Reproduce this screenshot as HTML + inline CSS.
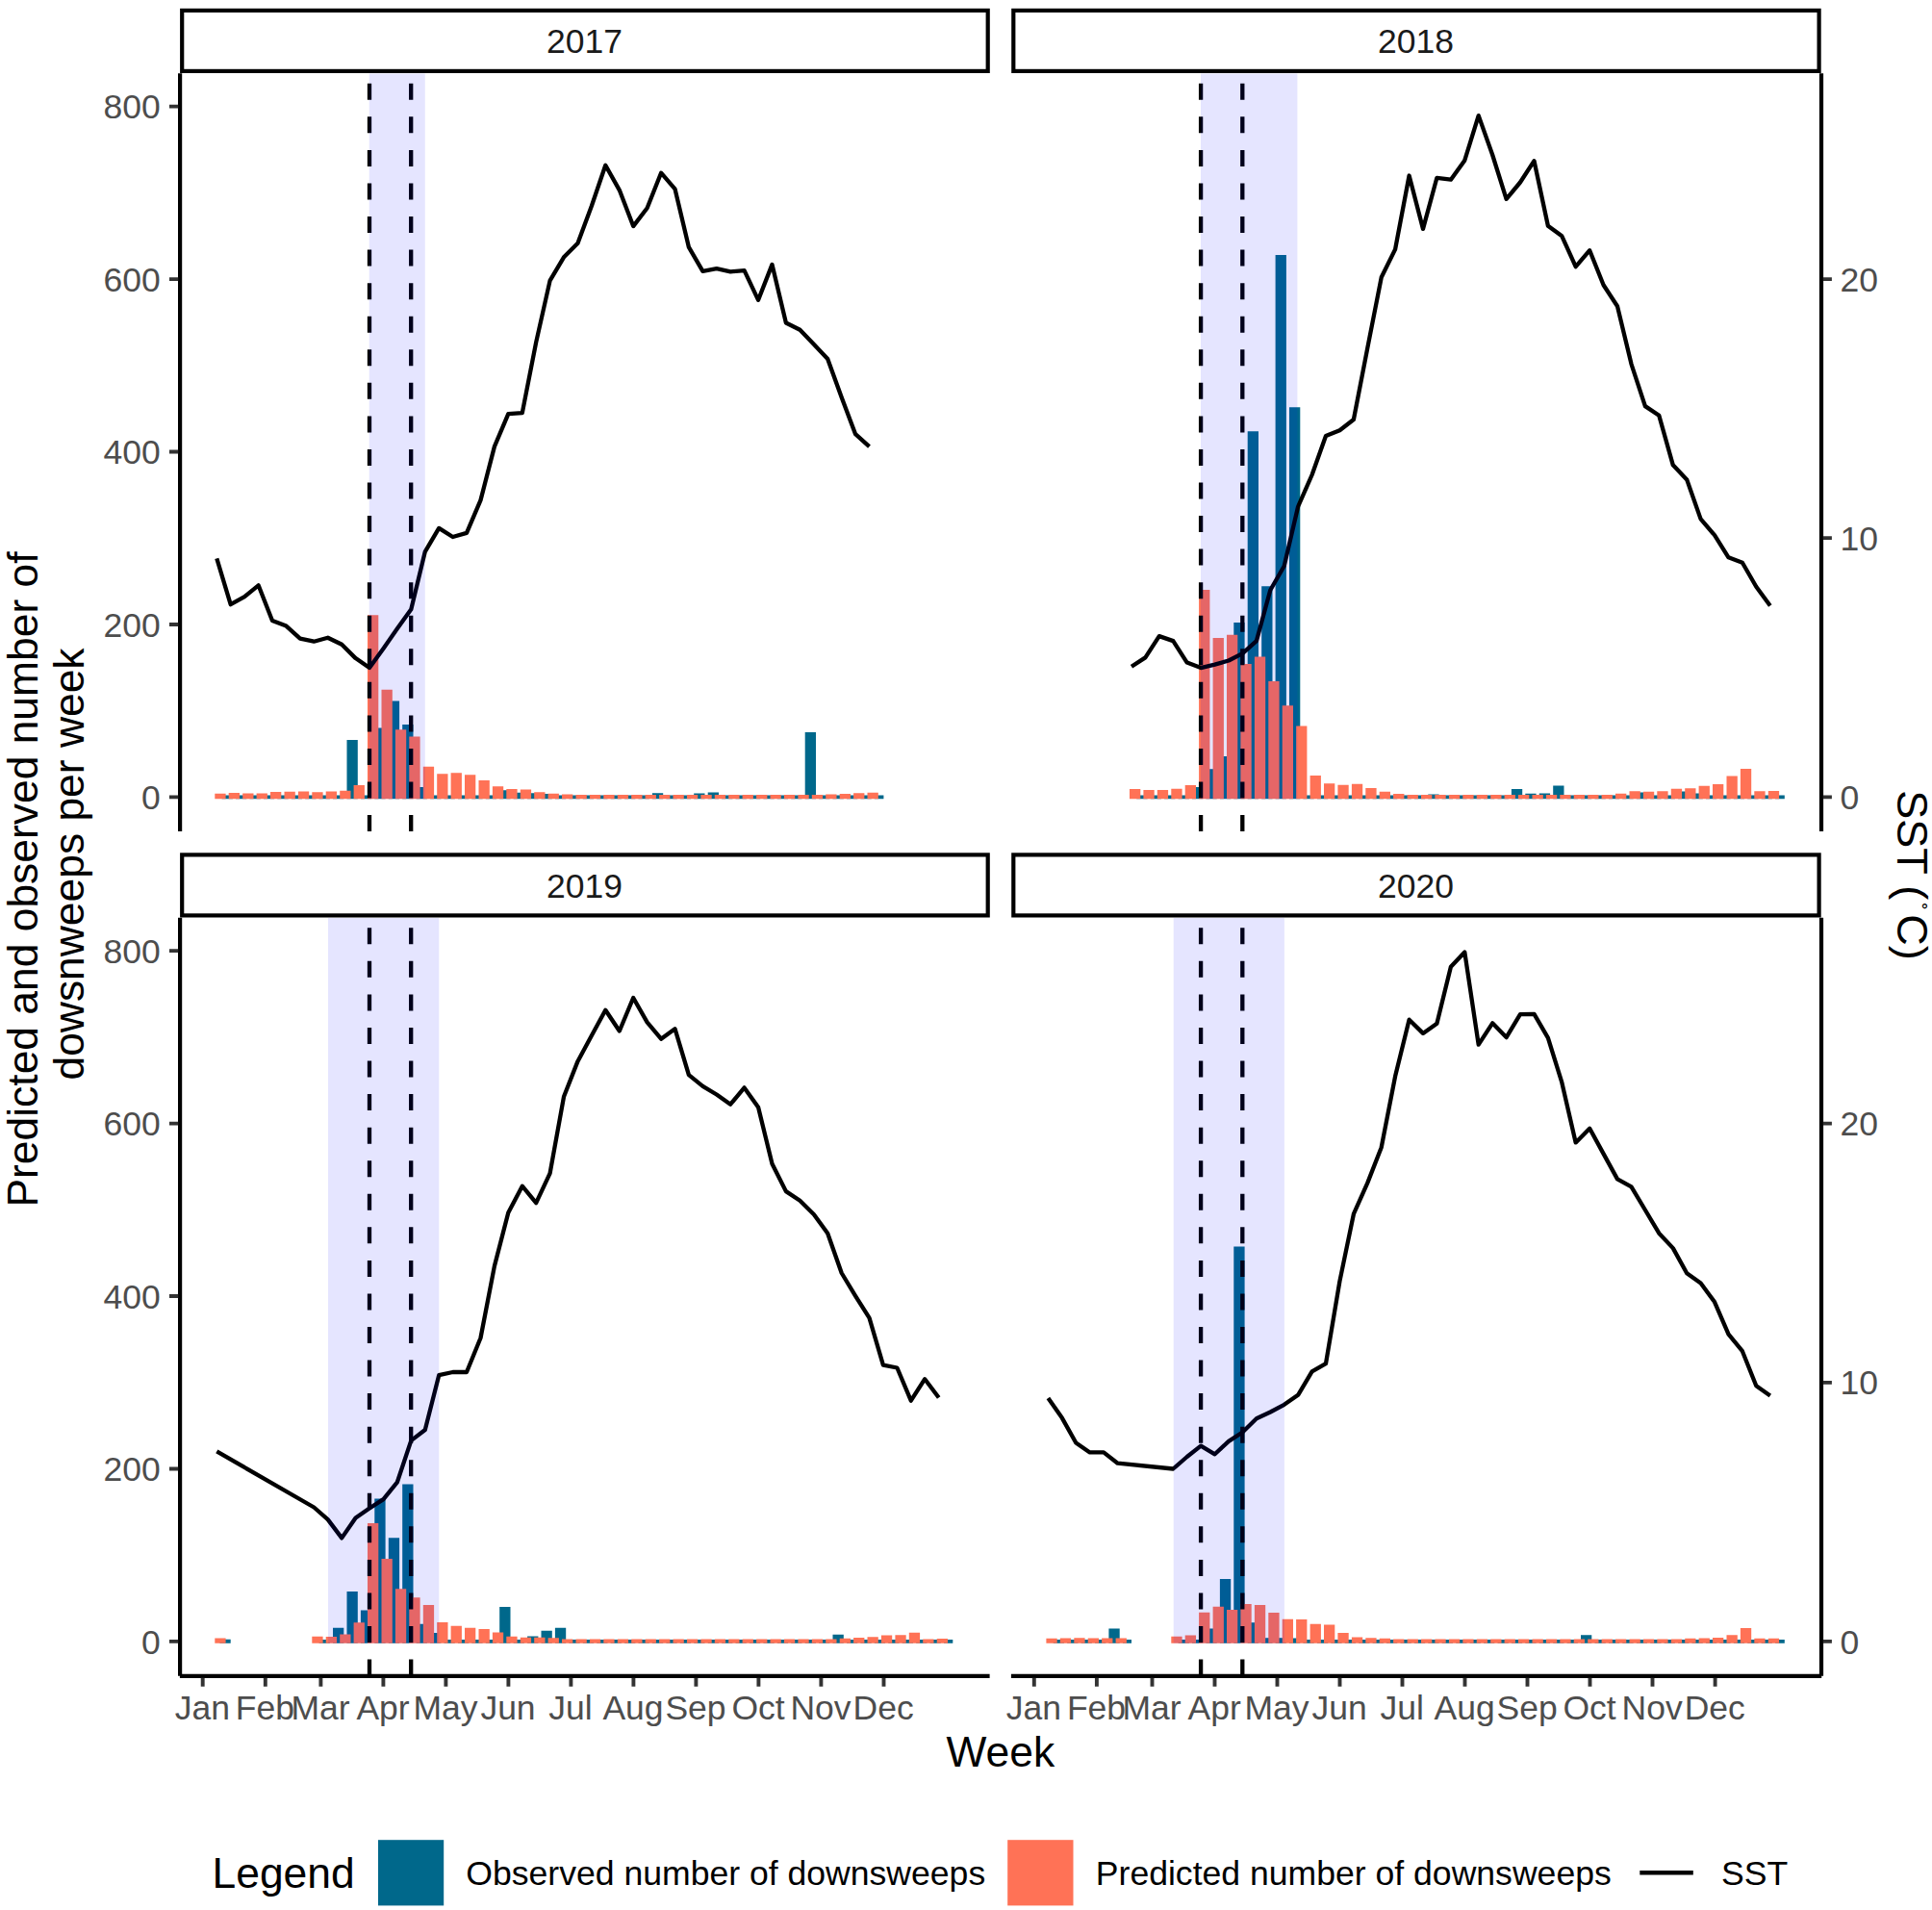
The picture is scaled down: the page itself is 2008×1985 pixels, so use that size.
<!DOCTYPE html>
<html lang="en"><head><meta charset="utf-8"><title>Predicted and observed downsweeps per week with SST, 2017-2020</title>
<style>html,body{margin:0;padding:0;background:#fff}svg{display:block}text{font-family:"Liberation Sans",Arial,Helvetica,sans-serif}.t{font-size:35.5px;fill:#4d4d4d}.s{font-size:35.5px;fill:#1a1a1a}.l{font-size:35.6px;fill:#000}.h{font-size:44.4px;fill:#000}</style></head><body>
<svg width="2008" height="1985" viewBox="0 0 2008 1985">
<rect width="2008" height="1985" fill="#fff"/>
<g transform="translate(0,0)">
<path fill="#00688B" d="M230.6 830.2h11.3v-3.8h-11.3zM245 830.2h11.3v-3.8h-11.3zM259.5 830.2h11.3v-3.8h-11.3zM273.9 830.2h11.3v-3.8h-11.3zM288.3 830.2h11.3v-3.8h-11.3zM302.8 830.2h11.3v-3.8h-11.3zM317.2 830.2h11.3v-3.8h-11.3zM331.6 830.2h11.3v-3.8h-11.3zM346 830.2h11.3v-3.8h-11.3zM360.5 830.2h11.3v-61.3h-11.3zM374.9 830.2h11.3v-3.8h-11.3zM389.3 830.2h11.3v-73.8h-11.3zM403.8 830.2h11.3v-101.7h-11.3zM418.2 830.2h11.3v-77.3h-11.3zM432.6 830.2h11.3v-12.1h-11.3zM447.1 830.2h11.3v-3.8h-11.3zM461.5 830.2h11.3v-3.8h-11.3zM475.9 830.2h11.3v-3.8h-11.3zM490.3 830.2h11.3v-3.8h-11.3zM504.8 830.2h11.3v-3.8h-11.3zM519.2 830.2h11.3v-9h-11.3zM533.6 830.2h11.3v-6.4h-11.3zM548.1 830.2h11.3v-5.9h-11.3zM562.5 830.2h11.3v-5.1h-11.3zM576.9 830.2h11.3v-3.8h-11.3zM591.4 830.2h11.3v-3.8h-11.3zM605.8 830.2h11.3v-3.8h-11.3zM620.2 830.2h11.3v-3.8h-11.3zM634.6 830.2h11.3v-3.8h-11.3zM649.1 830.2h11.3v-3.8h-11.3zM663.5 830.2h11.3v-3.8h-11.3zM677.9 830.2h11.3v-5.9h-11.3zM692.4 830.2h11.3v-3.8h-11.3zM706.8 830.2h11.3v-3.8h-11.3zM721.2 830.2h11.3v-5.6h-11.3zM735.7 830.2h11.3v-6.7h-11.3zM750.1 830.2h11.3v-3.8h-11.3zM764.5 830.2h11.3v-3.8h-11.3zM778.9 830.2h11.3v-3.8h-11.3zM793.4 830.2h11.3v-3.8h-11.3zM807.8 830.2h11.3v-3.8h-11.3zM822.2 830.2h11.3v-3.8h-11.3zM836.7 830.2h11.3v-69.3h-11.3zM851.1 830.2h11.3v-3.8h-11.3zM865.5 830.2h11.3v-3.8h-11.3zM880 830.2h11.3v-3.8h-11.3zM894.4 830.2h11.3v-3.8h-11.3zM908.8 830.2h9.6v-3.8h-9.6z"/>
<path fill="#FF7256" d="M223.3 830.2h11.3v-5.4h-11.3zM237.7 830.2h11.3v-6.2h-11.3zM252.2 830.2h11.3v-5.7h-11.3zM266.6 830.2h11.3v-5.7h-11.3zM281 830.2h11.3v-7.1h-11.3zM295.5 830.2h11.3v-7.5h-11.3zM309.9 830.2h11.3v-7.6h-11.3zM324.3 830.2h11.3v-7h-11.3zM338.7 830.2h11.3v-7.6h-11.3zM353.2 830.2h11.3v-8.5h-11.3zM367.6 830.2h11.3v-14.1h-11.3zM382 830.2h11.3v-190.9h-11.3zM396.5 830.2h11.3v-113.5h-11.3zM410.9 830.2h11.3v-71.9h-11.3zM425.3 830.2h11.3v-64.8h-11.3zM439.8 830.2h11.3v-33.4h-11.3zM454.2 830.2h11.3v-25.9h-11.3zM468.6 830.2h11.3v-26.9h-11.3zM483 830.2h11.3v-25h-11.3zM497.5 830.2h11.3v-19.1h-11.3zM511.9 830.2h11.3v-12.9h-11.3zM526.3 830.2h11.3v-10.1h-11.3zM540.8 830.2h11.3v-9.6h-11.3zM555.2 830.2h11.3v-7h-11.3zM569.6 830.2h11.3v-5.4h-11.3zM584 830.2h11.3v-4.7h-11.3zM598.5 830.2h11.3v-4.3h-11.3zM612.9 830.2h11.3v-4.3h-11.3zM627.3 830.2h11.3v-4.3h-11.3zM641.8 830.2h11.3v-4.3h-11.3zM656.2 830.2h11.3v-4.3h-11.3zM670.6 830.2h11.3v-4.3h-11.3zM685.1 830.2h11.3v-4.3h-11.3zM699.5 830.2h11.3v-4.3h-11.3zM713.9 830.2h11.3v-4.3h-11.3zM728.4 830.2h11.3v-4.3h-11.3zM742.8 830.2h11.3v-4.3h-11.3zM757.2 830.2h11.3v-4.3h-11.3zM771.6 830.2h11.3v-4.3h-11.3zM786.1 830.2h11.3v-4.3h-11.3zM800.5 830.2h11.3v-4.3h-11.3zM814.9 830.2h11.3v-4.3h-11.3zM829.4 830.2h11.3v-4.3h-11.3zM843.8 830.2h11.3v-4.3h-11.3zM858.2 830.2h11.3v-4.7h-11.3zM872.7 830.2h11.3v-5.1h-11.3zM887.1 830.2h11.3v-5.9h-11.3zM901.5 830.2h11.3v-6.4h-11.3z"/>
<polyline fill="none" stroke="#000" stroke-width="4.3" stroke-linejoin="round" points="225.3,580.4 239.7,628.2 254.2,620.1 268.6,608.3 283,645 297.5,650.6 311.9,663.6 326.3,666.7 340.7,662.7 355.2,669.8 369.6,684.1 384,694 398.5,673.9 412.9,653.3 427.3,633.2 441.8,573.3 456.2,548.9 470.6,558 485,553.9 499.5,519.9 513.9,464.1 528.3,430.1 542.8,429.1 557.2,355.6 571.6,291.6 586,267.3 600.5,252.8 614.9,214 629.3,171.8 643.8,197.6 658.2,235.1 672.6,216.3 687.1,179.7 701.5,196.3 715.9,256.9 730.4,281.8 744.8,279.1 759.2,282.3 773.6,281.2 788.1,311.8 802.5,274.9 816.9,335.5 831.4,342.7 845.8,357.7 860.2,372.9 874.7,413.1 889.1,451.2 903.5,464.1"/>
<line x1="384" y1="864.1" x2="384" y2="76.5" stroke="#000" stroke-width="4.3" stroke-dasharray="17 17.56"/>
<line x1="427.2" y1="864.1" x2="427.2" y2="76.5" stroke="#000" stroke-width="4.3" stroke-dasharray="17 17.56"/>
<rect x="383.7" y="76.5" width="58.1" height="753.7" fill="#0000ff" fill-opacity="0.1"/>
</g>
<g transform="translate(864.1,0)">
<path fill="#00688B" d="M317.2 830.2h11.3v-3.8h-11.3zM331.6 830.2h11.3v-3.8h-11.3zM346 830.2h11.3v-3.8h-11.3zM360.5 830.2h11.3v-3.8h-11.3zM374.9 830.2h11.3v-12.1h-11.3zM389.3 830.2h11.3v-30.9h-11.3zM403.8 830.2h11.3v-44.3h-11.3zM418.2 830.2h11.3v-183.3h-11.3zM432.6 830.2h11.3v-381.9h-11.3zM447.1 830.2h11.3v-221h-11.3zM461.5 830.2h11.3v-565.1h-11.3zM475.9 830.2h11.3v-407h-11.3zM490.3 830.2h11.3v-3.8h-11.3zM504.8 830.2h11.3v-3.8h-11.3zM519.2 830.2h11.3v-3.8h-11.3zM533.6 830.2h11.3v-3.8h-11.3zM548.1 830.2h11.3v-3.8h-11.3zM562.5 830.2h11.3v-3.8h-11.3zM576.9 830.2h11.3v-3.8h-11.3zM591.4 830.2h11.3v-3.8h-11.3zM605.8 830.2h11.3v-3.8h-11.3zM620.2 830.2h11.3v-4.7h-11.3zM634.6 830.2h11.3v-3.8h-11.3zM649.1 830.2h11.3v-3.8h-11.3zM663.5 830.2h11.3v-3.8h-11.3zM677.9 830.2h11.3v-3.8h-11.3zM692.4 830.2h11.3v-3.8h-11.3zM706.8 830.2h11.3v-10.1h-11.3zM721.2 830.2h11.3v-5.4h-11.3zM735.7 830.2h11.3v-5.6h-11.3zM750.1 830.2h11.3v-13.7h-11.3zM764.5 830.2h11.3v-3.8h-11.3zM778.9 830.2h11.3v-3.8h-11.3zM793.4 830.2h11.3v-3.8h-11.3zM807.8 830.2h11.3v-3.8h-11.3zM822.2 830.2h11.3v-3.8h-11.3zM836.7 830.2h11.3v-6.7h-11.3zM851.1 830.2h11.3v-3.8h-11.3zM865.5 830.2h11.3v-3.8h-11.3zM880 830.2h11.3v-7.8h-11.3zM894.4 830.2h11.3v-5.7h-11.3zM908.8 830.2h11.3v-3.8h-11.3zM923.2 830.2h11.3v-3.8h-11.3zM937.7 830.2h11.3v-3.8h-11.3zM952.1 830.2h11.3v-3.8h-11.3zM966.5 830.2h11.3v-3.8h-11.3zM981 830.2h9.7v-3.8h-9.7z"/>
<path fill="#FF7256" d="M309.9 830.2h11.3v-10.2h-11.3zM324.3 830.2h11.3v-9.3h-11.3zM338.7 830.2h11.3v-9.3h-11.3zM353.2 830.2h11.3v-10.5h-11.3zM367.6 830.2h11.3v-14.1h-11.3zM382 830.2h11.3v-217.1h-11.3zM396.5 830.2h11.3v-167.3h-11.3zM410.9 830.2h11.3v-170.4h-11.3zM425.3 830.2h11.3v-140.1h-11.3zM439.8 830.2h11.3v-147.6h-11.3zM454.2 830.2h11.3v-122.3h-11.3zM468.6 830.2h11.3v-96.9h-11.3zM483 830.2h11.3v-75.7h-11.3zM497.5 830.2h11.3v-24.3h-11.3zM511.9 830.2h11.3v-15.9h-11.3zM526.3 830.2h11.3v-14.4h-11.3zM540.8 830.2h11.3v-15.5h-11.3zM555.2 830.2h11.3v-11.3h-11.3zM569.6 830.2h11.3v-7.4h-11.3zM584 830.2h11.3v-5.3h-11.3zM598.5 830.2h11.3v-4.3h-11.3zM612.9 830.2h11.3v-4.3h-11.3zM627.3 830.2h11.3v-4.3h-11.3zM641.8 830.2h11.3v-4.3h-11.3zM656.2 830.2h11.3v-4.3h-11.3zM670.6 830.2h11.3v-4.3h-11.3zM685.1 830.2h11.3v-4.3h-11.3zM699.5 830.2h11.3v-4.3h-11.3zM713.9 830.2h11.3v-4.3h-11.3zM728.4 830.2h11.3v-4.3h-11.3zM742.8 830.2h11.3v-4.3h-11.3zM757.2 830.2h11.3v-4.3h-11.3zM771.6 830.2h11.3v-4.3h-11.3zM786.1 830.2h11.3v-4.3h-11.3zM800.5 830.2h11.3v-4.3h-11.3zM814.9 830.2h11.3v-5.4h-11.3zM829.4 830.2h11.3v-7.9h-11.3zM843.8 830.2h11.3v-7.4h-11.3zM858.2 830.2h11.3v-7.9h-11.3zM872.7 830.2h11.3v-10.4h-11.3zM887.1 830.2h11.3v-10.9h-11.3zM901.5 830.2h11.3v-13.5h-11.3zM915.9 830.2h11.3v-15.2h-11.3zM930.4 830.2h11.3v-23.7h-11.3zM944.8 830.2h11.3v-31.1h-11.3zM959.2 830.2h11.3v-8h-11.3zM973.7 830.2h11.3v-8.2h-11.3z"/>
<polyline fill="none" stroke="#000" stroke-width="4.3" stroke-linejoin="round" points="311.9,692.8 326.3,683.4 340.7,661.1 355.2,666.1 369.6,688.6 384,694.1 398.5,690.6 412.9,686.5 427.3,679.2 441.8,666.1 456.2,613.2 470.6,588.2 485,526.5 499.5,493.5 513.9,453 528.3,447.3 542.8,436 557.2,361.6 571.6,288.3 586,259.1 600.5,182.5 614.9,237.9 629.3,184.8 643.8,186.7 658.2,166.7 672.6,120.1 687.1,161 701.5,206.8 715.9,189.5 730.4,167.2 744.8,234.8 759.2,245.3 773.6,277.2 788.1,260.2 802.5,296.3 816.9,318.3 831.4,378.3 845.8,422.1 860.2,431.8 874.7,483.3 889.1,498.4 903.5,539.4 917.9,556.2 932.4,579.3 946.8,584.7 961.2,609.8 975.7,629.6"/>
<line x1="384" y1="864.1" x2="384" y2="76.5" stroke="#000" stroke-width="4.3" stroke-dasharray="17 17.56"/>
<line x1="427.2" y1="864.1" x2="427.2" y2="76.5" stroke="#000" stroke-width="4.3" stroke-dasharray="17 17.56"/>
<rect x="383.9" y="76.5" width="100.4" height="753.7" fill="#0000ff" fill-opacity="0.1"/>
</g>
<g transform="translate(0,877.5)">
<path fill="#00688B" d="M228.4 830.2h11.3v-4h-11.3zM331.6 830.2h11.3v-3.6h-11.3zM346 830.2h11.3v-16h-11.3zM360.5 830.2h11.3v-53.7h-11.3zM374.9 830.2h11.3v-34.1h-11.3zM389.3 830.2h11.3v-150.3h-11.3zM403.8 830.2h11.3v-109.5h-11.3zM418.2 830.2h11.3v-165.2h-11.3zM432.6 830.2h11.3v-19.9h-11.3zM447.1 830.2h11.3v-10.8h-11.3zM461.5 830.2h11.3v-3.6h-11.3zM475.9 830.2h11.3v-3.6h-11.3zM490.3 830.2h11.3v-3.6h-11.3zM504.8 830.2h11.3v-3.6h-11.3zM519.2 830.2h11.3v-37.7h-11.3zM533.6 830.2h11.3v-3.6h-11.3zM548.1 830.2h11.3v-7.3h-11.3zM562.5 830.2h11.3v-12.9h-11.3zM576.9 830.2h11.3v-16h-11.3zM591.4 830.2h11.3v-3.6h-11.3zM605.8 830.2h11.3v-3.6h-11.3zM620.2 830.2h11.3v-3.6h-11.3zM634.6 830.2h11.3v-3.6h-11.3zM649.1 830.2h11.3v-3.6h-11.3zM663.5 830.2h11.3v-3.6h-11.3zM677.9 830.2h11.3v-3.6h-11.3zM692.4 830.2h11.3v-3.6h-11.3zM706.8 830.2h11.3v-3.6h-11.3zM721.2 830.2h11.3v-3.6h-11.3zM735.7 830.2h11.3v-3.6h-11.3zM750.1 830.2h11.3v-3.6h-11.3zM764.5 830.2h11.3v-3.6h-11.3zM778.9 830.2h11.3v-3.6h-11.3zM793.4 830.2h11.3v-3.6h-11.3zM807.8 830.2h11.3v-3.6h-11.3zM822.2 830.2h11.3v-3.6h-11.3zM836.7 830.2h11.3v-3.6h-11.3zM851.1 830.2h11.3v-3.6h-11.3zM865.5 830.2h11.3v-9h-11.3zM880 830.2h11.3v-3.6h-11.3zM894.4 830.2h11.3v-3.6h-11.3zM908.8 830.2h11.3v-3.6h-11.3zM923.2 830.2h11.3v-3.6h-11.3zM937.7 830.2h11.3v-3.6h-11.3zM952.1 830.2h11.3v-3.6h-11.3zM966.5 830.2h11.3v-3.6h-11.3zM981 830.2h9.3v-3.6h-9.3z"/>
<path fill="#FF7256" d="M223.3 830.2h11.3v-5.3h-11.3zM324.3 830.2h11.3v-6.9h-11.3zM338.7 830.2h11.3v-6.6h-11.3zM353.2 830.2h11.3v-9.3h-11.3zM367.6 830.2h11.3v-21.5h-11.3zM382 830.2h11.3v-124.7h-11.3zM396.5 830.2h11.3v-87.8h-11.3zM410.9 830.2h11.3v-56.4h-11.3zM425.3 830.2h11.3v-47.4h-11.3zM439.8 830.2h11.3v-39.6h-11.3zM454.2 830.2h11.3v-21.8h-11.3zM468.6 830.2h11.3v-17.9h-11.3zM483 830.2h11.3v-16h-11.3zM497.5 830.2h11.3v-14.6h-11.3zM511.9 830.2h11.3v-11.3h-11.3zM526.3 830.2h11.3v-7h-11.3zM540.8 830.2h11.3v-5.9h-11.3zM555.2 830.2h11.3v-5.9h-11.3zM569.6 830.2h11.3v-5.4h-11.3zM584 830.2h11.3v-4.2h-11.3zM598.5 830.2h11.3v-4.2h-11.3zM612.9 830.2h11.3v-4.2h-11.3zM627.3 830.2h11.3v-4.2h-11.3zM641.8 830.2h11.3v-4.2h-11.3zM656.2 830.2h11.3v-4.2h-11.3zM670.6 830.2h11.3v-4.2h-11.3zM685.1 830.2h11.3v-4.2h-11.3zM699.5 830.2h11.3v-4.2h-11.3zM713.9 830.2h11.3v-4.2h-11.3zM728.4 830.2h11.3v-4.2h-11.3zM742.8 830.2h11.3v-4.2h-11.3zM757.2 830.2h11.3v-4.2h-11.3zM771.6 830.2h11.3v-4.2h-11.3zM786.1 830.2h11.3v-4.2h-11.3zM800.5 830.2h11.3v-4.2h-11.3zM814.9 830.2h11.3v-4.2h-11.3zM829.4 830.2h11.3v-4.2h-11.3zM843.8 830.2h11.3v-4.2h-11.3zM858.2 830.2h11.3v-4.2h-11.3zM872.7 830.2h11.3v-5h-11.3zM887.1 830.2h11.3v-5.7h-11.3zM901.5 830.2h11.3v-6.5h-11.3zM915.9 830.2h11.3v-8.1h-11.3zM930.4 830.2h11.3v-8.5h-11.3zM944.8 830.2h11.3v-10.9h-11.3zM959.2 830.2h11.3v-4.3h-11.3zM973.7 830.2h11.3v-4.7h-11.3z"/>
<polyline fill="none" stroke="#000" stroke-width="4.3" stroke-linejoin="round" points="225.3,630.9 326.3,689 340.7,701.6 355.2,720.9 369.6,700 384,690 398.5,680.6 412.9,662.8 427.3,619.6 441.8,608.5 456.2,551.7 470.6,548.5 485,548.5 499.5,513 513.9,438.4 528.3,382.7 542.8,355.2 557.2,372.6 571.6,341.8 586,262.3 600.5,225.4 614.9,198.7 629.3,172.3 643.8,194 658.2,159.5 672.6,184.9 687.1,202.2 701.5,191.7 715.9,239.6 730.4,251.3 744.8,260 759.2,270.2 773.6,252.9 788.1,273.3 802.5,332 816.9,360.6 831.4,370.2 845.8,384.5 860.2,404.2 874.7,445.5 889.1,469.3 903.5,492.1 917.9,541.1 932.4,544 946.8,578.2 961.2,555.7 975.7,575"/>
<line x1="384" y1="864.1" x2="384" y2="76.5" stroke="#000" stroke-width="4.3" stroke-dasharray="17 17.56"/>
<line x1="427.2" y1="864.1" x2="427.2" y2="76.5" stroke="#000" stroke-width="4.3" stroke-dasharray="17 17.56"/>
<rect x="341" y="76.5" width="115.3" height="753.7" fill="#0000ff" fill-opacity="0.1"/>
</g>
<g transform="translate(864.1,877.5)">
<path fill="#00688B" d="M230.6 830.2h11.3v-3.8h-11.3zM245 830.2h11.3v-3.8h-11.3zM259.5 830.2h11.3v-3.8h-11.3zM273.9 830.2h11.3v-3.8h-11.3zM288.3 830.2h11.3v-15.2h-11.3zM302.8 830.2h9.1v-3.8h-9.1zM360.5 830.2h11.3v-3.7h-11.3zM374.9 830.2h11.3v-3.7h-11.3zM389.3 830.2h11.3v-15.2h-11.3zM403.8 830.2h11.3v-66.6h-11.3zM418.2 830.2h11.3v-412.1h-11.3zM432.6 830.2h11.3v-21.5h-11.3zM447.1 830.2h11.3v-5.5h-11.3zM461.5 830.2h11.3v-5.5h-11.3zM475.9 830.2h11.3v-5.3h-11.3zM490.3 830.2h11.3v-3.7h-11.3zM504.8 830.2h11.3v-3.7h-11.3zM519.2 830.2h11.3v-3.7h-11.3zM533.6 830.2h11.3v-3.7h-11.3zM548.1 830.2h11.3v-3.7h-11.3zM562.5 830.2h11.3v-3.7h-11.3zM576.9 830.2h11.3v-3.7h-11.3zM591.4 830.2h11.3v-3.7h-11.3zM605.8 830.2h11.3v-3.7h-11.3zM620.2 830.2h11.3v-3.7h-11.3zM634.6 830.2h11.3v-3.7h-11.3zM649.1 830.2h11.3v-3.7h-11.3zM663.5 830.2h11.3v-3.7h-11.3zM677.9 830.2h11.3v-3.7h-11.3zM692.4 830.2h11.3v-3.7h-11.3zM706.8 830.2h11.3v-3.7h-11.3zM721.2 830.2h11.3v-3.7h-11.3zM735.7 830.2h11.3v-3.7h-11.3zM750.1 830.2h11.3v-3.7h-11.3zM764.5 830.2h11.3v-3.7h-11.3zM778.9 830.2h11.3v-8.5h-11.3zM793.4 830.2h11.3v-3.7h-11.3zM807.8 830.2h11.3v-3.7h-11.3zM822.2 830.2h11.3v-3.7h-11.3zM836.7 830.2h11.3v-3.7h-11.3zM851.1 830.2h11.3v-3.7h-11.3zM865.5 830.2h11.3v-3.7h-11.3zM880 830.2h11.3v-3.7h-11.3zM894.4 830.2h11.3v-3.7h-11.3zM908.8 830.2h11.3v-3.7h-11.3zM923.2 830.2h11.3v-3.7h-11.3zM937.7 830.2h11.3v-3.7h-11.3zM952.1 830.2h11.3v-3.7h-11.3zM966.5 830.2h11.3v-3.7h-11.3zM981 830.2h9.7v-3.7h-9.7z"/>
<path fill="#FF7256" d="M223.3 830.2h11.3v-5h-11.3zM237.7 830.2h11.3v-5.3h-11.3zM252.2 830.2h11.3v-5.5h-11.3zM266.6 830.2h11.3v-5.3h-11.3zM281 830.2h11.3v-5.3h-11.3zM295.5 830.2h11.3v-5.3h-11.3zM353.2 830.2h11.3v-6.9h-11.3zM367.6 830.2h11.3v-8.2h-11.3zM382 830.2h11.3v-32h-11.3zM396.5 830.2h11.3v-38h-11.3zM410.9 830.2h11.3v-34.6h-11.3zM425.3 830.2h11.3v-40.7h-11.3zM439.8 830.2h11.3v-39.6h-11.3zM454.2 830.2h11.3v-31.7h-11.3zM468.6 830.2h11.3v-24.9h-11.3zM483 830.2h11.3v-24.8h-11.3zM497.5 830.2h11.3v-19.9h-11.3zM511.9 830.2h11.3v-19.1h-11.3zM526.3 830.2h11.3v-10.6h-11.3zM540.8 830.2h11.3v-6.2h-11.3zM555.2 830.2h11.3v-5.4h-11.3zM569.6 830.2h11.3v-5h-11.3zM584 830.2h11.3v-4.2h-11.3zM598.5 830.2h11.3v-4.2h-11.3zM612.9 830.2h11.3v-4.2h-11.3zM627.3 830.2h11.3v-4.2h-11.3zM641.8 830.2h11.3v-4.2h-11.3zM656.2 830.2h11.3v-4.2h-11.3zM670.6 830.2h11.3v-4.2h-11.3zM685.1 830.2h11.3v-4.2h-11.3zM699.5 830.2h11.3v-4.2h-11.3zM713.9 830.2h11.3v-4.2h-11.3zM728.4 830.2h11.3v-4.2h-11.3zM742.8 830.2h11.3v-4.2h-11.3zM757.2 830.2h11.3v-4.2h-11.3zM771.6 830.2h11.3v-4.2h-11.3zM786.1 830.2h11.3v-4.2h-11.3zM800.5 830.2h11.3v-4.2h-11.3zM814.9 830.2h11.3v-4.2h-11.3zM829.4 830.2h11.3v-4.2h-11.3zM843.8 830.2h11.3v-4.2h-11.3zM858.2 830.2h11.3v-4.2h-11.3zM872.7 830.2h11.3v-4.2h-11.3zM887.1 830.2h11.3v-5h-11.3zM901.5 830.2h11.3v-5.1h-11.3zM915.9 830.2h11.3v-5.7h-11.3zM930.4 830.2h11.3v-8.5h-11.3zM944.8 830.2h11.3v-15.8h-11.3zM959.2 830.2h11.3v-5h-11.3zM973.7 830.2h11.3v-5h-11.3z"/>
<polyline fill="none" stroke="#000" stroke-width="4.3" stroke-linejoin="round" points="225.3,575.6 239.7,596.1 254.2,622 268.6,631.9 283,631.9 297.5,643.2 355.2,649 369.6,636.5 384,625.1 398.5,633.8 412.9,620.4 427.3,611 441.8,596.7 456.2,590 470.6,582.3 485,572.3 499.5,547.8 513.9,539.7 528.3,454.1 542.8,384.2 557.2,351.9 571.6,315 586,241.1 600.5,182.2 614.9,196.4 629.3,186.2 643.8,127.3 658.2,112 672.6,208.1 687.1,185.8 701.5,200.6 715.9,176.7 730.4,176.4 744.8,201.1 759.2,247.4 773.6,309.9 788.1,295.3 802.5,321.6 816.9,347.9 831.4,355.8 845.8,380 860.2,404.2 874.7,419.6 889.1,445.8 903.5,456 917.9,475.6 932.4,509.1 946.8,526.7 961.2,562.8 975.7,573"/>
<line x1="384" y1="864.1" x2="384" y2="76.5" stroke="#000" stroke-width="4.3" stroke-dasharray="17 17.56"/>
<line x1="427.2" y1="864.1" x2="427.2" y2="76.5" stroke="#000" stroke-width="4.3" stroke-dasharray="17 17.56"/>
<rect x="355.6" y="76.5" width="115.2" height="753.7" fill="#0000ff" fill-opacity="0.1"/>
</g>
<rect x="189.2" y="10.9" width="837.5" height="63" fill="#fff" stroke="#000" stroke-width="4.2"/>
<text class="s" x="607.6" y="55" text-anchor="middle">2017</text>
<rect x="1053.3" y="10.9" width="837.3" height="63" fill="#fff" stroke="#000" stroke-width="4.2"/>
<text class="s" x="1471.5" y="55" text-anchor="middle">2018</text>
<rect x="189.2" y="888.4" width="837.5" height="63" fill="#fff" stroke="#000" stroke-width="4.2"/>
<text class="s" x="607.6" y="932.5" text-anchor="middle">2019</text>
<rect x="1053.3" y="888.4" width="837.3" height="63" fill="#fff" stroke="#000" stroke-width="4.2"/>
<text class="s" x="1471.5" y="932.5" text-anchor="middle">2020</text>
<path d="M187.1 76.3V864.1M1893 76.3V864.1" stroke="#000" stroke-width="4.2" fill="none"/>
<path d="M176 828.4H185.2M176 649H185.2M176 469.5H185.2M176 290.1H185.2M176 110.7H185.2M1894.8 828.4H1903.9M1894.8 559.2H1903.9M1894.8 290.1H1903.9" stroke="#333" stroke-width="3.8" fill="none"/>
<text class="t" x="166.8" y="841" text-anchor="end">0</text>
<text class="t" x="166.8" y="661.6" text-anchor="end">200</text>
<text class="t" x="166.8" y="482.1" text-anchor="end">400</text>
<text class="t" x="166.8" y="302.7" text-anchor="end">600</text>
<text class="t" x="166.8" y="123.3" text-anchor="end">800</text>
<text class="t" x="1912.4" y="841">0</text>
<text class="t" x="1912.4" y="571.9">10</text>
<text class="t" x="1912.4" y="302.7">20</text>
<path d="M187.1 953.8V1741.8M1893 953.8V1741.8" stroke="#000" stroke-width="4.2" fill="none"/>
<path d="M176 1705.9H185.2M176 1526.5H185.2M176 1347H185.2M176 1167.6H185.2M176 988.2H185.2M1894.8 1705.9H1903.9M1894.8 1436.8H1903.9M1894.8 1167.6H1903.9" stroke="#333" stroke-width="3.8" fill="none"/>
<text class="t" x="166.8" y="1718.5" text-anchor="end">0</text>
<text class="t" x="166.8" y="1539.1" text-anchor="end">200</text>
<text class="t" x="166.8" y="1359.6" text-anchor="end">400</text>
<text class="t" x="166.8" y="1180.2" text-anchor="end">600</text>
<text class="t" x="166.8" y="1000.8" text-anchor="end">800</text>
<text class="t" x="1912.4" y="1718.5">0</text>
<text class="t" x="1912.4" y="1449.3">10</text>
<text class="t" x="1912.4" y="1180.2">20</text>
<path d="M186.9 1741.8H1028.6M1050.9 1741.8H1893.2" stroke="#000" stroke-width="4.2" fill="none"/>
<path d="M210.7 1743.8V1752.7M275.8 1743.8V1752.7M333.4 1743.8V1752.7M398.4 1743.8V1752.7M463.4 1743.8V1752.7M528.4 1743.8V1752.7M593.4 1743.8V1752.7M658.4 1743.8V1752.7M723.4 1743.8V1752.7M788.4 1743.8V1752.7M853.4 1743.8V1752.7M918.5 1743.8V1752.7M1074.8 1743.8V1752.7M1139.9 1743.8V1752.7M1197.5 1743.8V1752.7M1262.5 1743.8V1752.7M1327.5 1743.8V1752.7M1392.5 1743.8V1752.7M1457.5 1743.8V1752.7M1522.5 1743.8V1752.7M1587.5 1743.8V1752.7M1652.5 1743.8V1752.7M1717.5 1743.8V1752.7M1782.6 1743.8V1752.7" stroke="#333" stroke-width="3.9" fill="none"/>
<text class="t" x="210.3" y="1786.7" text-anchor="middle">Jan</text>
<text class="t" x="275.4" y="1786.7" text-anchor="middle">Feb</text>
<text class="t" x="333" y="1786.7" text-anchor="middle">Mar</text>
<text class="t" x="398" y="1786.7" text-anchor="middle">Apr</text>
<text class="t" x="463" y="1786.7" text-anchor="middle">May</text>
<text class="t" x="528" y="1786.7" text-anchor="middle">Jun</text>
<text class="t" x="593" y="1786.7" text-anchor="middle">Jul</text>
<text class="t" x="658" y="1786.7" text-anchor="middle">Aug</text>
<text class="t" x="723" y="1786.7" text-anchor="middle">Sep</text>
<text class="t" x="788" y="1786.7" text-anchor="middle">Oct</text>
<text class="t" x="853" y="1786.7" text-anchor="middle">Nov</text>
<text class="t" x="918.1" y="1786.7" text-anchor="middle">Dec</text>
<text class="t" x="1074.4" y="1786.7" text-anchor="middle">Jan</text>
<text class="t" x="1139.5" y="1786.7" text-anchor="middle">Feb</text>
<text class="t" x="1197.1" y="1786.7" text-anchor="middle">Mar</text>
<text class="t" x="1262.1" y="1786.7" text-anchor="middle">Apr</text>
<text class="t" x="1327.1" y="1786.7" text-anchor="middle">May</text>
<text class="t" x="1392.1" y="1786.7" text-anchor="middle">Jun</text>
<text class="t" x="1457.1" y="1786.7" text-anchor="middle">Jul</text>
<text class="t" x="1522.1" y="1786.7" text-anchor="middle">Aug</text>
<text class="t" x="1587.1" y="1786.7" text-anchor="middle">Sep</text>
<text class="t" x="1652.1" y="1786.7" text-anchor="middle">Oct</text>
<text class="t" x="1717.1" y="1786.7" text-anchor="middle">Nov</text>
<text class="t" x="1782.2" y="1786.7" text-anchor="middle">Dec</text>
<text class="h" x="1039.8" y="1836.1" text-anchor="middle">Week</text>
<text class="h" transform="translate(39.3,914) rotate(-90)" text-anchor="middle">Predicted and observed number of</text>
<text class="h" transform="translate(87.2,898) rotate(-90)" text-anchor="middle">dowsnweeps per week</text>
<text class="h" transform="translate(1972,909.5) rotate(90)" text-anchor="middle" style="font-size:45px">SST (<tspan font-size="22.5" dx="3.2" dy="-13.4">˚</tspan><tspan dx="4.3" dy="13.4">C)</tspan></text>
<text class="h" x="220.5" y="1961.7">Legend</text>
<rect x="393" y="1912.2" width="68.2" height="68.2" fill="#00688B"/>
<text class="l" x="484.3" y="1958.8">Observed number of downsweeps</text>
<rect x="1047.2" y="1912.2" width="68.3" height="68.2" fill="#FF7256"/>
<text class="l" x="1138.8" y="1958.8">Predicted number of downsweeps</text>
<line x1="1704.3" y1="1946.3" x2="1759.8" y2="1946.3" stroke="#000" stroke-width="4.6"/>
<text class="l" x="1789" y="1958.8">SST</text>
</svg></body></html>
